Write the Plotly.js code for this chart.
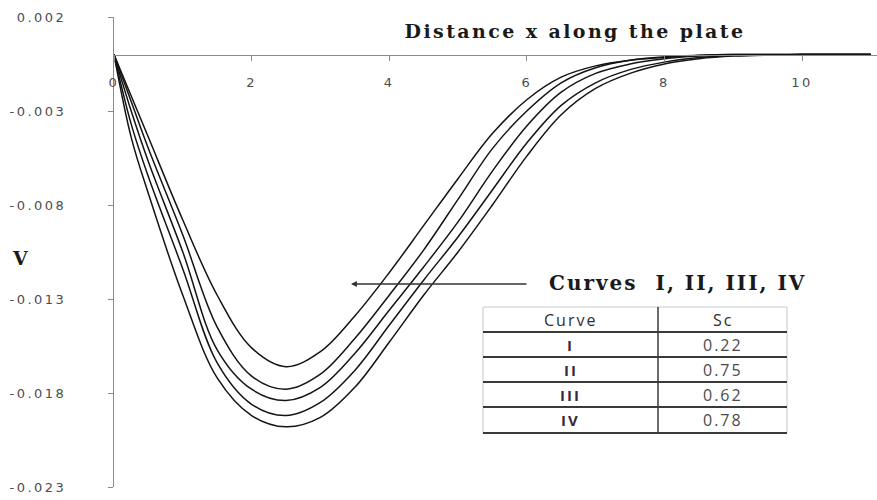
<!DOCTYPE html>
<html>
<head>
<meta charset="utf-8">
<script src="https://cdn.plot.ly/plotly-3.0.1.min.js"></script>
<style>
  html, body { margin: 0; padding: 0; background: #ffffff; }
  #chart { width: 877px; height: 500px; }
  .xtick text, .ytick text { letter-spacing: 2.5px; }
  .gtitle { letter-spacing: 2.4px; }
  .annotation-text { letter-spacing: 2px; }
</style>
</head>
<body>
<div id="chart"></div>
<script>
// Distance along the plate
const xVals = [0, 0.25, 0.5, 1, 1.5, 2, 2.5, 3, 3.5, 4, 4.5, 5, 5.5, 6, 6.5, 7, 7.5, 8, 8.5, 9, 10, 11];

// Velocity profiles V(x), shallowest to deepest
const curveI   = [0, -0.0022, -0.0044, -0.0088, -0.0128, -0.0156, -0.0166, -0.0158, -0.0139, -0.0116, -0.0091, -0.0066, -0.0042, -0.0024, -0.0012, -0.0006, -0.0003, -0.00015, -0.00005, 0, 0, 0];
const curveII  = [0, -0.0025, -0.0050, -0.0096, -0.0145, -0.0171, -0.0178, -0.0170, -0.0151, -0.0128, -0.0104, -0.0077, -0.0050, -0.0030, -0.0015, -0.0007, -0.0003, -0.00012, -0.00004, 0, 0, 0];
const curveIII = [0, -0.0030, -0.0057, -0.0105, -0.0157, -0.0178, -0.0184, -0.0177, -0.0159, -0.0136, -0.0113, -0.0089, -0.0062, -0.0038, -0.0020, -0.0010, -0.0005, -0.00022, -0.00008, -0.00002, 0, 0];
const curveIV  = [0, -0.0037, -0.0065, -0.0114, -0.0164, -0.0186, -0.0192, -0.0185, -0.0168, -0.0144, -0.0120, -0.0097, -0.0072, -0.0047, -0.0027, -0.0015, -0.0008, -0.0004, -0.00016, -0.00005, 0, 0];
const curveV   = [0, -0.0044, -0.0074, -0.0128, -0.0172, -0.0192, -0.0198, -0.0193, -0.0177, -0.0153, -0.0128, -0.0105, -0.0080, -0.0054, -0.0032, -0.0018, -0.0010, -0.0005, -0.00022, -0.00008, 0, 0];

// Axis ticks
const xTicks = [0, 2, 4, 6, 8, 10];
const yTicks = [0.002, -0.003, -0.008, -0.013, -0.018, -0.023];
const yTickText = ['0.002', '-0.003', '-0.008', '-0.013', '-0.018', '-0.023'];

// Schmidt number table
const tableHeader = ['Curve', 'Sc'];
const curveNames = ['I', 'II', 'III', 'IV'];
const scValues = ['0.22', '0.75', '0.62', '0.78'];

const W = 877, H = 500;
const M = { l: 114, r: 0, t: 17, b: 13 };
const plotW = W - M.l - M.r, plotH = H - M.t - M.b;
const xRange = [0, 11.09];
const yRange = [-0.023, 0.002];

// pixel -> paper helpers for layout decorations
const px = X => (X - M.l) / plotW;
const py = Y => 1 - (Y - M.t) / plotH;
// pixel -> data helpers
const dx = X => xRange[0] + (X - M.l) / plotW * (xRange[1] - xRange[0]);
const dy = Y => yRange[1] - (Y - M.t) / plotH * (yRange[1] - yRange[0]);

const series = [curveI, curveII, curveIII, curveIV, curveV];
const traces = series.map((ys, i) => ({
  type: 'scatter',
  mode: 'lines',
  x: xVals,
  y: ys,
  name: 'curve ' + (i + 1),
  line: { color: '#141414', width: 1.5, shape: 'spline', smoothing: 1 },
  hoverinfo: 'x+y'
}));

// table geometry
const colEdges = [483, 658, 787];
const rowEdges = [307, 332, 357, 382, 407, 433];

const shapes = [];
const light = '#c9c9c9', dark = '#3a3a3a';
shapes.push({ type: 'line', xref: 'paper', yref: 'paper', x0: px(colEdges[0]), x1: px(colEdges[2]), y0: py(rowEdges[0]), y1: py(rowEdges[0]), line: { color: light, width: 1 } });
shapes.push({ type: 'line', xref: 'paper', yref: 'paper', x0: px(colEdges[0]), x1: px(colEdges[0]), y0: py(rowEdges[0]), y1: py(rowEdges[5]), line: { color: light, width: 1 } });
shapes.push({ type: 'line', xref: 'paper', yref: 'paper', x0: px(colEdges[2]), x1: px(colEdges[2]), y0: py(rowEdges[0]), y1: py(rowEdges[5]), line: { color: light, width: 1 } });
shapes.push({ type: 'line', xref: 'paper', yref: 'paper', x0: px(colEdges[1]), x1: px(colEdges[1]), y0: py(rowEdges[0]), y1: py(rowEdges[5]), line: { color: dark, width: 1.5 } });
for (let r = 1; r < rowEdges.length; r++) {
  shapes.push({ type: 'line', xref: 'paper', yref: 'paper', x0: px(colEdges[0]), x1: px(colEdges[2]), y0: py(rowEdges[r]), y1: py(rowEdges[r]), line: { color: dark, width: 1.8 } });
}

const annotations = [];
const colCenter = c => px((colEdges[c] + colEdges[c + 1]) / 2);
const rowCenter = r => py((rowEdges[r] + rowEdges[r + 1]) / 2);
tableHeader.forEach((t, c) => annotations.push({
  xref: 'paper', yref: 'paper', x: colCenter(c), y: rowCenter(0),
  text: t, showarrow: false, xanchor: 'center', yanchor: 'middle',
  font: { family: 'Open Sans', size: 16, color: '#2e2e2e' }
}));
curveNames.forEach((t, r) => {
  annotations.push({
    xref: 'paper', yref: 'paper', x: colCenter(0), y: rowCenter(r + 1),
    text: '<b>' + t + '</b>', showarrow: false, xanchor: 'center', yanchor: 'middle',
    font: { family: 'Open Sans', size: 15, color: '#3a2840' }
  });
  annotations.push({
    xref: 'paper', yref: 'paper', x: colCenter(1), y: rowCenter(r + 1),
    text: scValues[r], showarrow: false, xanchor: 'center', yanchor: 'middle',
    font: { family: 'Open Sans', size: 16, color: '#4a4a4a' }
  });
});

// pointer to the family of curves
annotations.push({
  x: dx(351), y: dy(284), xref: 'x', yref: 'y',
  ax: dx(528), ay: dy(284), axref: 'x', ayref: 'y',
  text: '', showarrow: true, arrowhead: 2, arrowsize: 0.9, arrowwidth: 1.3, arrowcolor: '#333333'
});
annotations.push({
  xref: 'paper', yref: 'paper', x: px(677), y: py(283),
  text: '<b>Curves  I, II, III, IV</b>', showarrow: false, xanchor: 'center', yanchor: 'middle',
  font: { family: 'DejaVu Serif', size: 20, color: '#1a1a1a' }
});
// vertical axis label
annotations.push({
  xref: 'paper', yref: 'paper', x: px(21), y: py(258),
  text: '<b>V</b>', showarrow: false, xanchor: 'center', yanchor: 'middle',
  font: { family: 'DejaVu Serif', size: 19, color: '#1a1a1a' }
});

const layout = {
  width: W, height: H,
  margin: M,
  paper_bgcolor: '#ffffff', plot_bgcolor: '#ffffff',
  showlegend: false,
  title: {
    text: '<b>Distance x along the plate</b>',
    xref: 'paper', x: px(575), xanchor: 'center',
    yref: 'container', y: 1 - 31 / H, yanchor: 'middle',
    font: { family: 'DejaVu Serif', size: 19, color: '#1a1a1a' }
  },
  xaxis: {
    range: xRange,
    anchor: 'free',
    position: (0 - yRange[0]) / (yRange[1] - yRange[0]),
    showline: true, linecolor: '#8a8a8a', linewidth: 1,
    showgrid: false, zeroline: false,
    tickmode: 'array', tickvals: xTicks, ticktext: xTicks.map(String),
    ticks: 'outside', ticklen: 5, tickcolor: '#8a8a8a', tickwidth: 1,
    ticklabelstandoff: 11,
    tickfont: { family: 'DejaVu Sans', size: 13, color: '#4d4d4d' }
  },
  yaxis: {
    range: yRange,
    showline: true, linecolor: '#8a8a8a', linewidth: 1,
    showgrid: false, zeroline: false,
    tickmode: 'array', tickvals: yTicks, ticktext: yTickText,
    ticks: 'outside', ticklen: 5, tickcolor: '#8a8a8a', tickwidth: 1,
    ticklabelstandoff: 39,
    tickfont: { family: 'DejaVu Sans', size: 13, color: '#4d4d4d' }
  },
  shapes: shapes,
  annotations: annotations
};

Plotly.newPlot('chart', traces, layout, { displayModeBar: false, staticPlot: true });
</script>
</body>
</html>
